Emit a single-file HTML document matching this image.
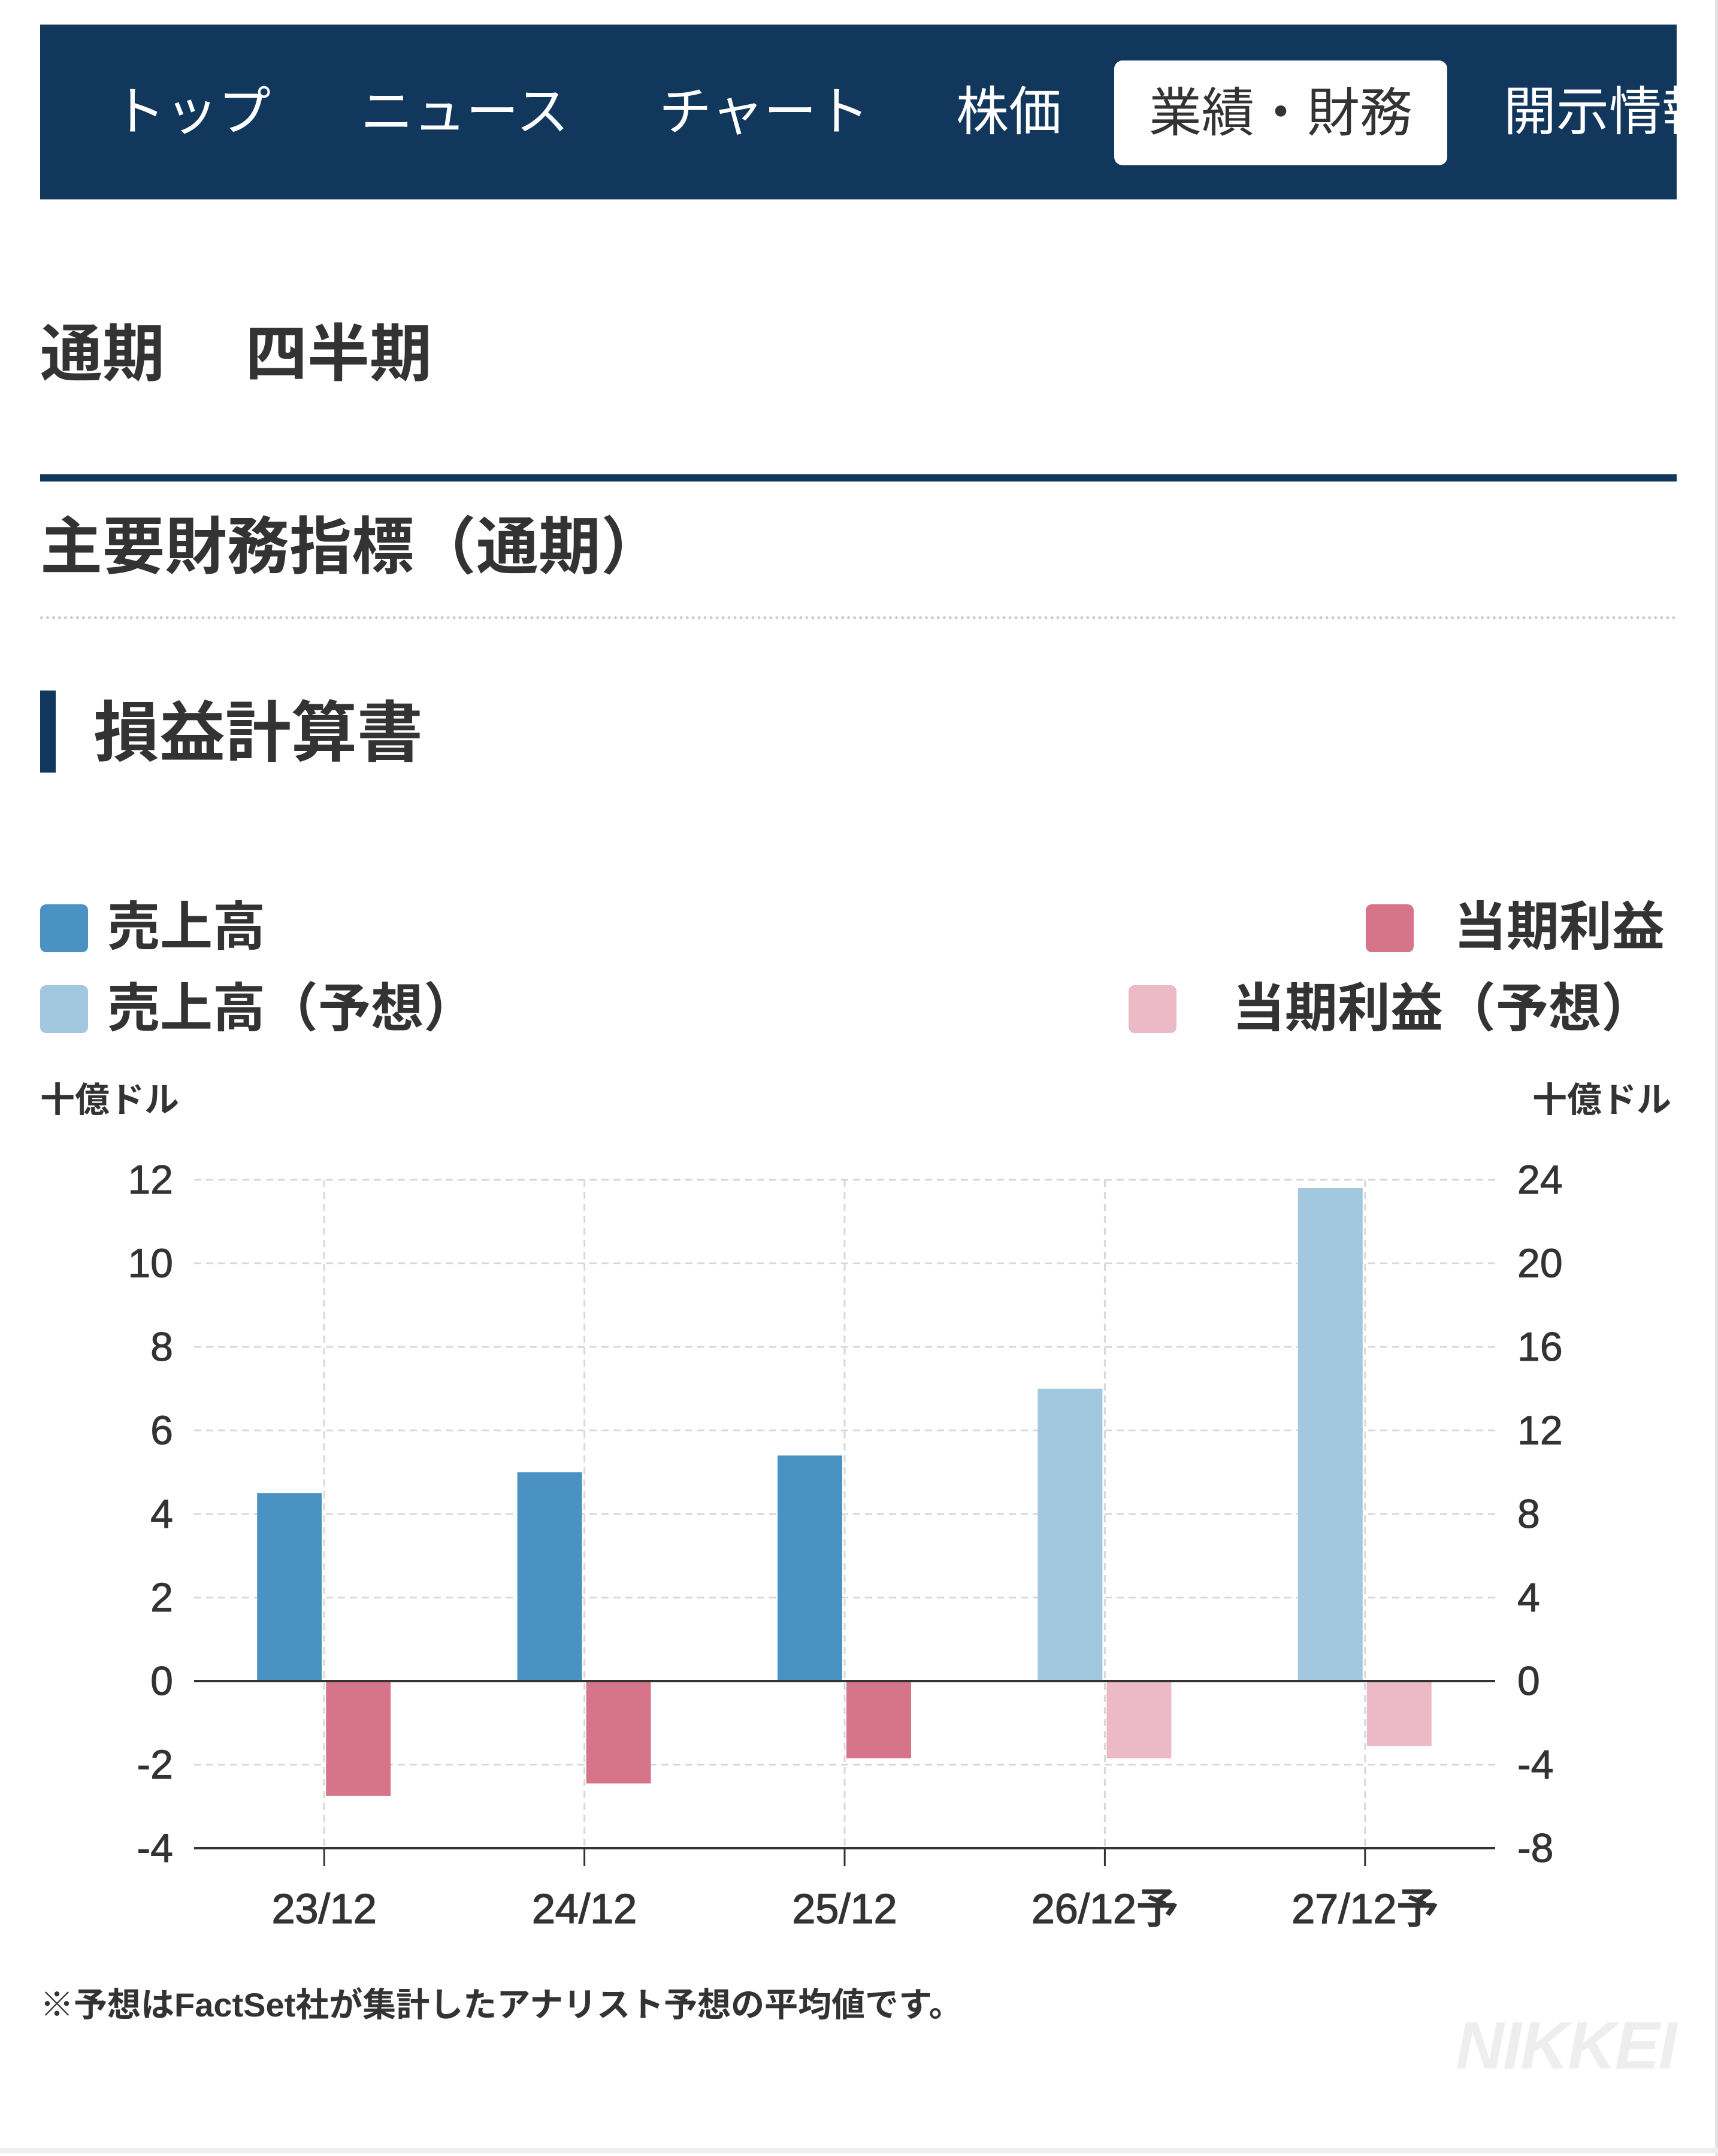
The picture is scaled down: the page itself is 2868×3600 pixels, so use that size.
<!DOCTYPE html>
<html><head><meta charset="utf-8">
<style>
html,body{margin:0;padding:0;background:#fff;}
body{width:2868px;height:3600px;position:relative;overflow:hidden;font-family:"Liberation Sans","Noto Sans CJK JP",sans-serif;color:#333;}
.abs{position:absolute;}
.nav{left:67px;top:41px;width:2732px;height:292px;background:#11375c;overflow:hidden;}
.nav .it{position:absolute;top:0;height:292px;line-height:292px;color:#fff;font-size:88px;white-space:nowrap;}
.nav .act{position:absolute;left:1793px;top:60px;width:556px;height:175px;background:#fff;border-radius:14px;color:#333;font-size:88px;line-height:175px;text-align:center;}
.h{font-weight:bold;white-space:nowrap;line-height:1;}
.lg{position:absolute;width:80px;height:80px;border-radius:10px;}
.lt{position:absolute;font-size:88px;font-weight:bold;line-height:1;white-space:nowrap;}
</style></head><body>
<div class="abs nav">
  <div class="it" style="left:121px">トップ</div>
  <div class="it" style="left:535px">ニュース</div>
  <div class="it" style="left:1033px">チャート</div>
  <div class="it" style="left:1529px">株価</div>
  <div class="act">業績・財務</div>
  <div class="it" style="left:2443px">開示情報</div>
</div>
<div class="abs h" style="left:67px;top:540px;font-size:104px">通期</div>
<div class="abs h" style="left:409px;top:540px;font-size:104px">四半期</div>
<div class="abs" style="left:67px;top:792px;width:2732px;height:12px;background:#11375c"></div>
<div class="abs h" style="left:67px;top:862px;font-size:104px">主要財務指標（通期）</div>
<div class="abs" style="left:67px;top:1029px;width:2732px;border-top:5px dotted #cccccc"></div>
<div class="abs" style="left:67px;top:1153px;width:26px;height:137px;background:#11375c"></div>
<div class="abs h" style="left:156px;top:1170px;font-size:110px">損益計算書</div>

<div class="lg" style="left:67px;top:1510px;background:#4a92c2"></div>
<div class="lt" style="left:179px;top:1504px">売上高</div>
<div class="lg" style="left:67px;top:1645px;background:#a1c8df"></div>
<div class="lt" style="left:179px;top:1640px">売上高（予想）</div>
<div class="lg" style="left:2280px;top:1510px;background:#d6758a"></div>
<div class="lt" style="left:2427px;top:1504px">当期利益</div>
<div class="lg" style="left:1884px;top:1645px;background:#ebbac6"></div>
<div class="lt" style="left:2057px;top:1640px">当期利益（予想）</div>

<svg class="abs" style="left:0;top:0" width="2868" height="3600">
  <g id="g"></g>
</svg>
<div class="abs h" style="left:67px;top:3320px;font-size:56px">※予想はFactSet社が集計したアナリスト予想の平均値です。</div>
<div class="abs" style="left:2430px;top:3360px;font-size:112px;font-weight:bold;font-style:italic;color:#eeeeee;line-height:1;letter-spacing:-2px">NIKKEI</div>
<div class="abs" style="left:2863px;top:0;width:5px;height:3600px;background:#e4e4e4"></div>
<div class="abs" style="left:0;top:3587px;width:2868px;height:8px;background:#eeeeee"></div>
<script>
const categories=["23/12","24/12","25/12","26/12予","27/12予"];
const salesValues=[4.5,5.0,5.4,7.0,11.8];
const profitValues=[-5.5,-4.9,-3.7,-3.7,-3.1];
const forecastFlags=[false,false,false,true,true];
const leftTicks=[12,10,8,6,4,2,0,-2,-4];
const rightTicks=[24,20,16,12,8,4,0,-4,-8];

const NS="http://www.w3.org/2000/svg";
const g=document.getElementById('g');
const X0=324,X1=2496,Y0=1970,Y1=3086,LMAX=12,LMIN=-4;
const yL=v=>Y0+(LMAX-v)/(LMAX-LMIN)*(Y1-Y0);
const yR=v=>yL(v/2);
const band=(X1-X0)/categories.length;
const xC=i=>X0+band*(i+0.5);
function mk(tag,attrs){const e=document.createElementNS(NS,tag);for(const k in attrs)e.setAttribute(k,attrs[k]);g.appendChild(e);return e;}
function txt(x,y,s,size,anchor,weight){const t=mk('text',{x:x,y:y,'font-size':size,'text-anchor':anchor,'fill':'#333','font-family':'"Liberation Sans","Noto Sans CJK JP",sans-serif','font-weight':weight||'normal','dominant-baseline':'central'});t.textContent=s;return t;}
let t=txt(67,1837,'十億ドル',58,'start','bold');


t=txt(2790,1837,'十億ドル',58,'end','bold');


leftTicks.forEach((v,i)=>{
  const y=yL(v);
  if(v!==0&&v!==LMIN){const l=mk('line',{x1:X0,x2:X1,y1:y,y2:y,stroke:'#d8d8d8','stroke-width':3,'stroke-dasharray':'12 8'});
  
  }
  const a=txt(289,y,String(v),68,'end','500');
  
  
  a.setAttribute('stroke','#333');a.setAttribute('stroke-width','1');
  const b=txt(2533,y,String(rightTicks[i]),68,'start','500');
  
  
  b.setAttribute('stroke','#333');b.setAttribute('stroke-width','1');
});
categories.forEach((c,i)=>{
  const x=xC(i);
  const l=mk('line',{x1:x,x2:x,y1:Y0,y2:Y1,stroke:'#d8d8d8','stroke-width':3,'stroke-dasharray':'12 8'});
  
  
});
categories.forEach((c,i)=>{
  const x=xC(i);
  const y0=yL(0);
  const ys=yL(salesValues[i]);
  const r1=mk('rect',{x:x-112,y:ys,width:108,height:y0-ys,fill:forecastFlags[i]?'#a1c8df':'#4a92c2'});
  
  
  const yp=yR(profitValues[i]);
  const r2=mk('rect',{x:x+3,y:y0,width:108,height:yp-y0,fill:forecastFlags[i]?'#ebbac6':'#d6758a'});
  
  
  const tk=mk('line',{x1:x,x2:x,y1:Y1,y2:Y1+30,stroke:'#333','stroke-width':3});
  
  
  const lb=txt(x,3187,c,70,'middle','500');
  
  
  lb.setAttribute('stroke','#333');lb.setAttribute('stroke-width','1.5');
});
const z=mk('line',{x1:X0,x2:X1,y1:yL(0),y2:yL(0),stroke:'#333','stroke-width':4});


const ax=mk('line',{x1:X0,x2:X1,y1:Y1,y2:Y1,stroke:'#333','stroke-width':4});


</script>
</body></html>
